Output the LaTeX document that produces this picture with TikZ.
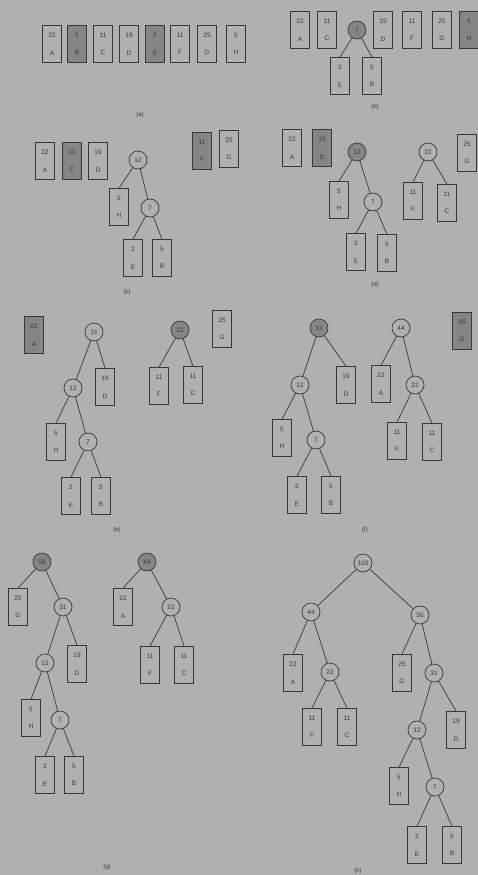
\documentclass[tikz,border=0pt]{standalone}
\usepackage{fontspec}
\setmainfont{Liberation Sans}
\definecolor{pagebg}{rgb}{0.69,0.69,0.68}
\definecolor{ink}{rgb}{0.22,0.22,0.22}
\definecolor{shade}{rgb}{0.52,0.52,0.51}
\newcommand\leaf[5][]{\node[leaf,#1] (#2) at (#3) {#4\\[10.5pt]#5};}
\newcommand\inn[4][]{\node[inode,#1] (#2) at (#3) {#4};}
\begin{document}
\begin{tikzpicture}[x=1pt,y=-1pt,
  leaf/.style={draw=ink, line width=0.7pt, minimum width=19pt, minimum height=37pt,
    inner sep=0pt, align=center, text=ink, font=\fontsize{6.5}{7}\selectfont},
  inode/.style={circle, draw=ink, line width=0.7pt, minimum size=18pt, inner sep=0pt,
    text=ink, font=\fontsize{6.5}{7}\selectfont},
  hl/.style={fill=shade},
  edge/.style={draw=ink, line width=0.7pt},
  captext/.style={text=ink, font=\fontsize{6}{7}\selectfont}]
\fill[pagebg] (0,0) rectangle (478,875);
\useasboundingbox (0,0) rectangle (478,875);

% (a)
\leaf{aA}{52,44}{22}{A}
\leaf[hl]{aB}{77,44}{5}{B}
\leaf{aC}{103,44}{11}{C}
\leaf{aD}{129,44}{19}{D}
\leaf[hl]{aE}{155,44}{2}{E}
\leaf{aF}{180,44}{11}{F}
\leaf{aG}{207,44}{25}{G}
\leaf{aH}{236,44}{5}{H}
\node[captext] (la) at (140,115) {(a)};

% (b)
\leaf{bA}{300,30}{22}{A}
\leaf{bC}{327,30}{11}{C}
\inn[hl]{b7}{357,30}{7}
\leaf{bE}{340,76}{2}{E}
\leaf{bB}{372,76}{5}{B}
\leaf{bD}{383,30}{19}{D}
\leaf{bF}{412,30}{11}{F}
\leaf{bG}{442,30}{25}{G}
\leaf[hl]{bH}{469,30}{5}{H}
\draw[edge] (b7) -- (bE.north);
\draw[edge] (b7) -- (bB.north);
\node[captext] (lb) at (375,107) {(b)};

% (c)
\leaf{cA}{45,161}{22}{A}
\leaf[hl]{cC}{72,161}{11}{C}
\leaf{cD}{98,161}{19}{D}
\inn{c12}{138,160}{12}
\leaf{cH}{119,207}{5}{H}
\inn{c7}{150,208}{7}
\leaf{cE}{133,258}{2}{E}
\leaf{cB}{162,258}{5}{B}
\leaf[hl]{cF}{202,151}{11}{F}
\leaf{cG}{229,149}{25}{G}
\draw[edge] (c12) -- (cH.north);
\draw[edge] (c12) -- (c7);
\draw[edge] (c7) -- (cE.north);
\draw[edge] (c7) -- (cB.north);
\node[captext] (lc) at (127,292) {(c)};

% (d)
\leaf{dA}{292,148}{22}{A}
\leaf[hl]{dD}{322,148}{19}{D}
\inn[hl]{d12}{357,152}{12}
\leaf{dH}{339,200}{5}{H}
\inn{d7}{373,202}{7}
\leaf{dE}{356,252}{2}{E}
\leaf{dB}{387,253}{5}{B}
\inn{d22}{428,152}{22}
\leaf{dF}{413,201}{11}{F}
\leaf{dC}{447,203}{11}{C}
\leaf{dG}{467,153}{25}{G}
\draw[edge] (d12) -- (dH.north);
\draw[edge] (d12) -- (d7);
\draw[edge] (d7) -- (dE.north);
\draw[edge] (d7) -- (dB.north);
\draw[edge] (d22) -- (dF.north);
\draw[edge] (d22) -- (dC.north);
\node[captext] (ld) at (375,285) {(d)};

% (e)
\leaf[hl]{eA}{34,335}{22}{A}
\inn{e31}{94,332}{31}
\inn{e12}{73,388}{12}
\leaf{eD}{105,387}{19}{D}
\leaf{eH}{56,442}{5}{H}
\inn{e7}{88,442}{7}
\leaf{eE}{71,496}{2}{E}
\leaf{eB}{101,496}{5}{B}
\inn[hl]{e22}{180,330}{22}
\leaf{eF}{159,386}{11}{F}
\leaf{eC}{193,385}{11}{C}
\leaf{eG}{222,329}{25}{G}
\draw[edge] (e31) -- (e12);
\draw[edge] (e31) -- (eD.north);
\draw[edge] (e12) -- (eH.north);
\draw[edge] (e12) -- (e7);
\draw[edge] (e7) -- (eE.north);
\draw[edge] (e7) -- (eB.north);
\draw[edge] (e22) -- (eF.north);
\draw[edge] (e22) -- (eC.north);
\node[captext] (le) at (117,530) {(e)};

% (f)
\inn[hl]{f31}{319,328}{31}
\inn{f12}{300,385}{12}
\leaf{fD}{346,385}{19}{D}
\leaf{fH}{282,438}{5}{H}
\inn{f7}{316,440}{7}
\leaf{fE}{297,495}{2}{E}
\leaf{fB}{331,495}{5}{B}
\inn{f44}{401,328}{44}
\leaf{fA}{381,384}{22}{A}
\inn{f22}{415,385}{22}
\leaf{fF}{397,441}{11}{F}
\leaf{fC}{432,442}{11}{C}
\leaf[hl]{fG}{462,331}{25}{G}
\draw[edge] (f31) -- (f12);
\draw[edge] (f31) -- (fD.north);
\draw[edge] (f12) -- (fH.north);
\draw[edge] (f12) -- (f7);
\draw[edge] (f7) -- (fE.north);
\draw[edge] (f7) -- (fB.north);
\draw[edge] (f44) -- (fA.north);
\draw[edge] (f44) -- (f22);
\draw[edge] (f22) -- (fF.north);
\draw[edge] (f22) -- (fC.north);
\node[captext] (lf) at (365,530) {(f)};

% (g)
\inn[hl]{g56}{42,562}{56}
\leaf{gG}{18,607}{25}{G}
\inn{g31}{63,607}{31}
\inn{g12}{45,663}{12}
\leaf{gD}{77,664}{19}{D}
\leaf{gH}{31,718}{5}{H}
\inn{g7}{60,720}{7}
\leaf{gE}{45,775}{2}{E}
\leaf{gB}{74,775}{5}{B}
\inn[hl]{g44}{147,562}{44}
\leaf{gA}{123,607}{22}{A}
\inn{g22}{171,607}{22}
\leaf{gF}{150,665}{11}{F}
\leaf{gC}{184,665}{11}{C}
\draw[edge] (g56) -- (gG.north);
\draw[edge] (g56) -- (g31);
\draw[edge] (g31) -- (g12);
\draw[edge] (g31) -- (gD.north);
\draw[edge] (g12) -- (gH.north);
\draw[edge] (g12) -- (g7);
\draw[edge] (g7) -- (gE.north);
\draw[edge] (g7) -- (gB.north);
\draw[edge] (g44) -- (gA.north);
\draw[edge] (g44) -- (g22);
\draw[edge] (g22) -- (gF.north);
\draw[edge] (g22) -- (gC.north);
\node[captext] (lg) at (107,867) {(g)};

% (h)
\inn{h100}{363,563}{100}
\inn{h44}{311,612}{44}
\inn{h56}{420,615}{56}
\leaf{hA}{293,673}{22}{A}
\inn{h22}{330,672}{22}
\leaf{hF}{312,727}{11}{F}
\leaf{hC}{347,727}{11}{C}
\leaf{hG}{402,673}{25}{G}
\inn{h31}{434,673}{31}
\inn{h12}{417,730}{12}
\leaf{hD}{456,730}{19}{D}
\leaf{hH}{399,786}{5}{H}
\inn{h7}{435,787}{7}
\leaf{hE}{417,845}{2}{E}
\leaf{hB}{452,845}{5}{B}
\draw[edge] (h100) -- (h44);
\draw[edge] (h100) -- (h56);
\draw[edge] (h44) -- (hA.north);
\draw[edge] (h44) -- (h22);
\draw[edge] (h22) -- (hF.north);
\draw[edge] (h22) -- (hC.north);
\draw[edge] (h56) -- (hG.north);
\draw[edge] (h56) -- (h31);
\draw[edge] (h31) -- (h12);
\draw[edge] (h31) -- (hD.north);
\draw[edge] (h12) -- (hH.north);
\draw[edge] (h12) -- (h7);
\draw[edge] (h7) -- (hE.north);
\draw[edge] (h7) -- (hB.north);
\node[captext] (lh) at (358,871) {(h)};
\end{tikzpicture}
\end{document}
